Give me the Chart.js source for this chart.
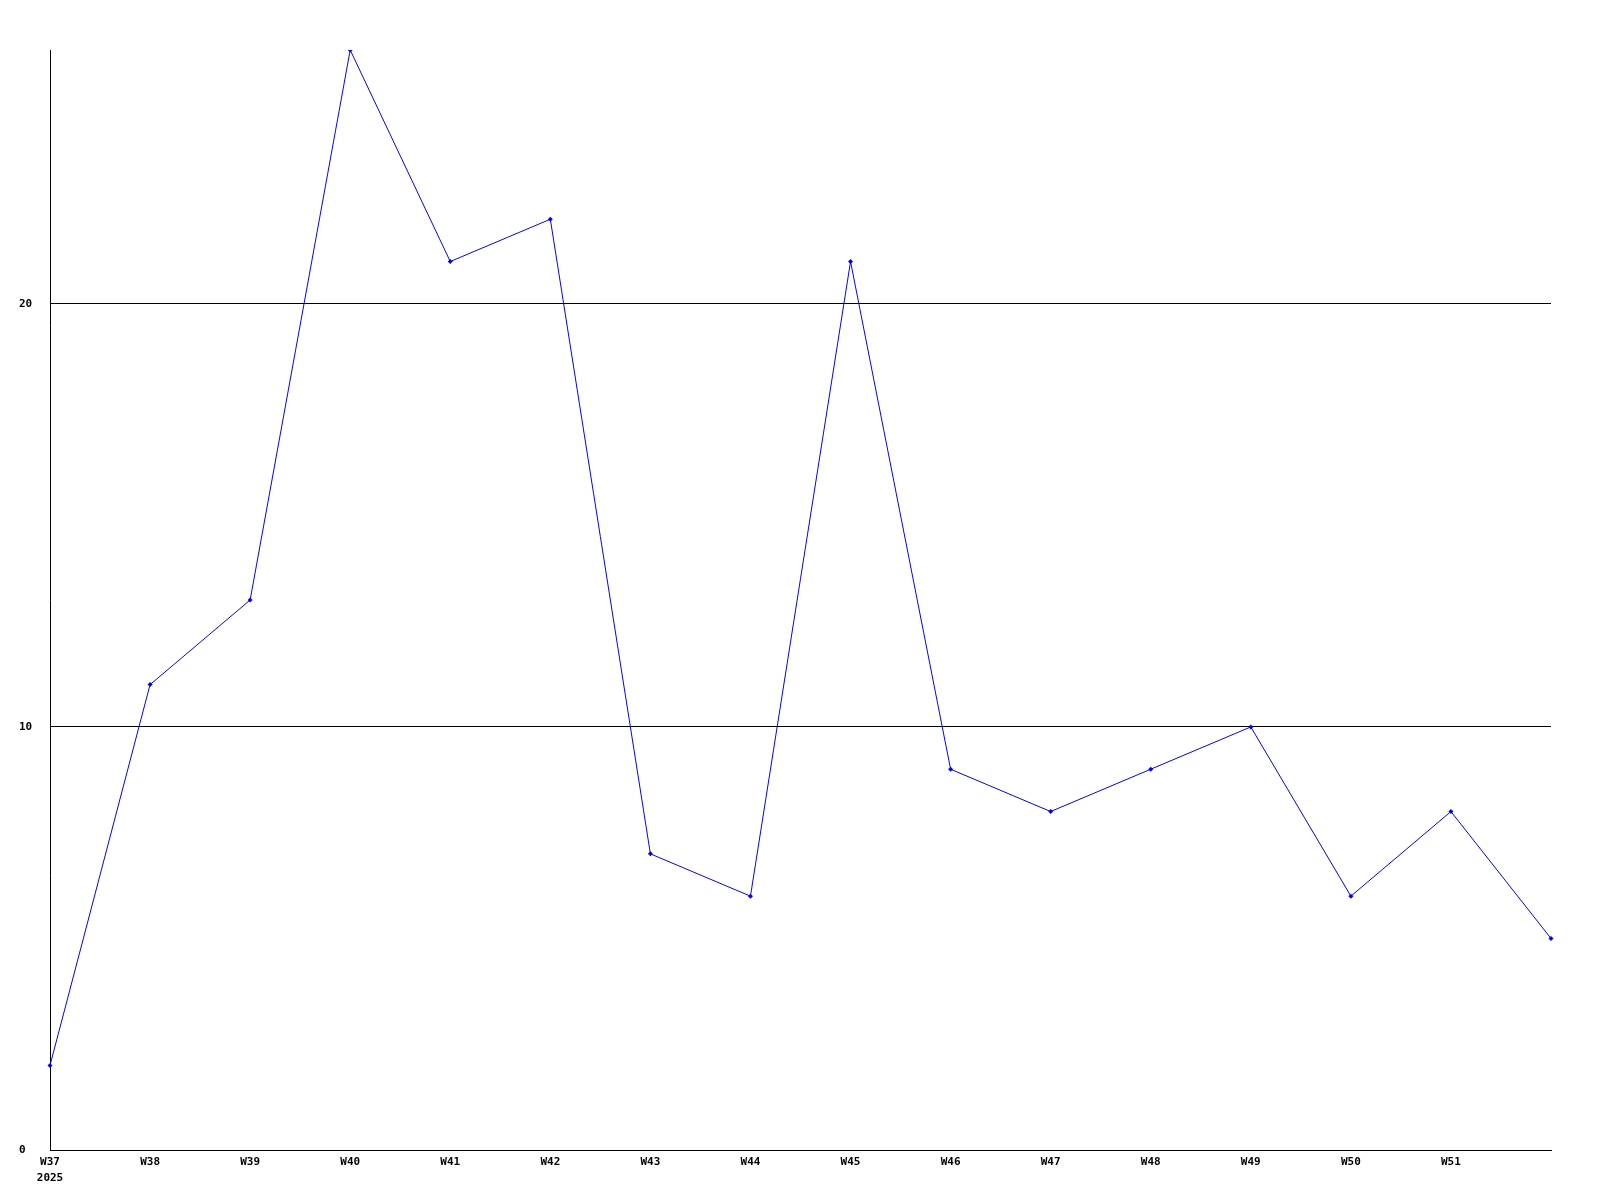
<!DOCTYPE html>
<html>
<head>
<meta charset="utf-8">
<script src="https://cdn.jsdelivr.net/npm/chart.js@4/dist/chart.umd.min.js"></script>
<style>
  body { margin: 0; background: #fff; }
</style>
</head>
<body>
<canvas id="chart" width="1600" height="1200"></canvas>
<script>
const weeks = ["W37", "W38", "W39", "W40", "W41", "W42", "W43", "W44", "W45", "W46", "W47", "W48", "W49", "W50", "W51", "W52"];
const values = [2, 11, 13, 26, 21, 22, 7, 6, 21, 9, 8, 9, 10, 6, 8, 5];
const yTicks = [0, 10, 20];
const yearLabel = "2025";

const monoFont = { family: "'DejaVu Sans Mono', monospace", size: 11, weight: "bold", lineHeight: 1.45 };

new Chart(document.getElementById("chart").getContext("2d"), {
    type: "line",
    data: {
        labels: weeks,
        datasets: [{
            data: values,
            borderColor: "#0000ff",
            backgroundColor: "#0000ff",
            borderWidth: 1,
            pointStyle: "rectRot",
            pointRadius: 2.5,
            pointBorderWidth: 0,
            tension: 0
        }]
    },
    options: {
        responsive: false,
        animation: false,
        layout: { padding: { top: 50, right: 49, left: 19, bottom: 0 } },
        plugins: { legend: { display: false }, tooltip: { enabled: false } },
        scales: {
            x: {
                type: "category",
                offset: false,
                grid: { display: false, drawTicks: false },
                border: { color: "#000", width: 1 },
                ticks: {
                    color: "#000",
                    font: monoFont,
                    padding: 4,
                    autoSkip: false,
                    maxRotation: 0,
                    callback: function (val, i) {
                        if (i === weeks.length - 1) return "";
                        return i === 0 ? [weeks[i], yearLabel] : weeks[i];
                    }
                },
                afterFit: function (scale) { scale.height = 50; }
            },
            y: {
                min: 0,
                max: 26,
                grid: { color: "#000", lineWidth: 1, drawTicks: false },
                border: { color: "#000", width: 1 },
                ticks: {
                    color: "#000",
                    font: { family: monoFont.family, size: 11, weight: "bold" },
                    crossAlign: "far",
                    padding: 4
                },
                afterBuildTicks: function (scale) {
                    scale.ticks = yTicks.map(v => ({ value: v }));
                },
                afterFit: function (scale) { scale.width = 31; }
            }
        }
    }
});
</script>
</body>
</html>
